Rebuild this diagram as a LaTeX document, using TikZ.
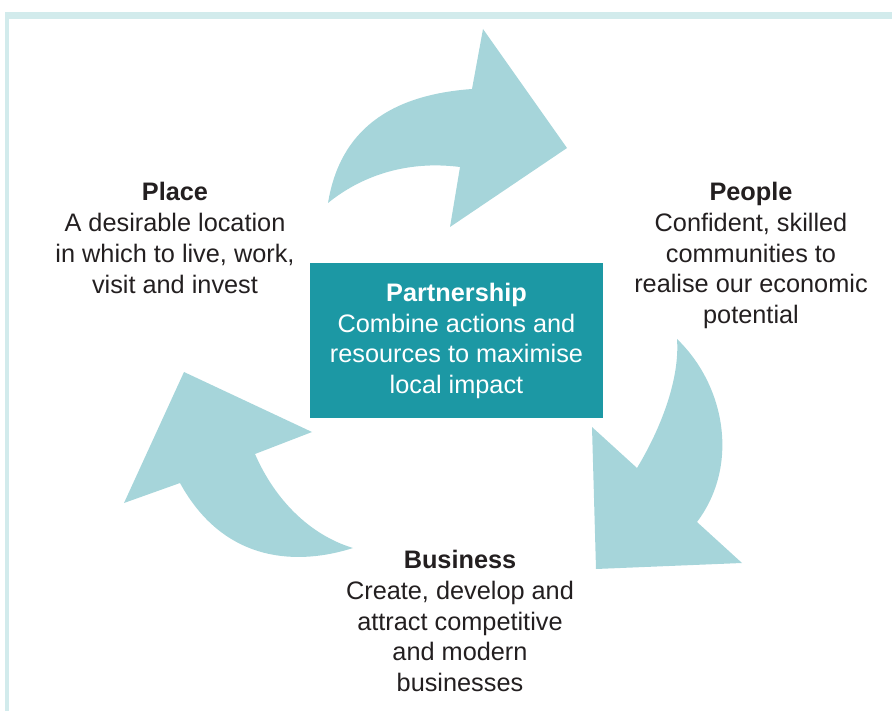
\documentclass[tikz,border=0pt]{standalone}
\usepackage{fontspec}
\setmainfont{Liberation Sans}
\usepackage{tikz}
\usetikzlibrary{calc,positioning}
\definecolor{framecol}{RGB}{210,235,236}
\definecolor{arrowcol}{RGB}{166,213,218}
\definecolor{boxcol}{RGB}{28,152,164}
\definecolor{textcol}{RGB}{35,31,32}

\begin{document}
\begin{tikzpicture}[x=1pt,y=-1pt,
  txt/.style={align=center,text=textcol,inner sep=0pt,font=\fontsize{25.3}{30.7}\selectfont}]
\useasboundingbox (0,0) rectangle (892,711);
% frame
\fill [framecol] (5,12) rectangle (892,19);
\fill [framecol] (5,12) rectangle (9,711);
% arrows
\fill [arrowcol] (328,203) .. controls (340,130) and (390,95) .. (472,89)
  -- (483,29) -- (567,148) -- (450,227) -- (460,167)
  .. controls (405,160) and (360,177) .. (328,203) -- cycle;
\fill [arrowcol] (677,339) .. controls (725,385) and (740,465) .. (697,522)
  -- (742,563) -- (596,569) -- (592,427) -- (637,468)
  .. controls (660,430) and (680,380) .. (677,339) -- cycle;
\fill [arrowcol] (184,372) -- (312,432) -- (255,454)
  .. controls (275,500) and (310,535) .. (353,548)
  .. controls (300,565) and (225,565) .. (180,483)
  -- (124,503) -- cycle;
% centre box
\node [fill=boxcol,minimum width=293pt,minimum height=155pt,inner sep=0pt] (partner) at (456.5,340.5) {};
\node [txt,text=white] (partnertxt) at (456.5,341) {\textbf{Partnership}\\Combine actions and\\resources to maximise\\local impact};
% labels
\node [txt] (place) at (175,238) {\textbf{Place}\\A desirable location\\in which to live, work,\\visit and invest};
\node [txt] (people) at (751,255.5) {\textbf{People}\\Confident, skilled\\communities to\\realise our economic\\potential};
\node [txt] (business) at (460,621) {\textbf{Business}\\Create, develop and\\attract competitive\\and modern\\businesses};
\end{tikzpicture}
\end{document}
